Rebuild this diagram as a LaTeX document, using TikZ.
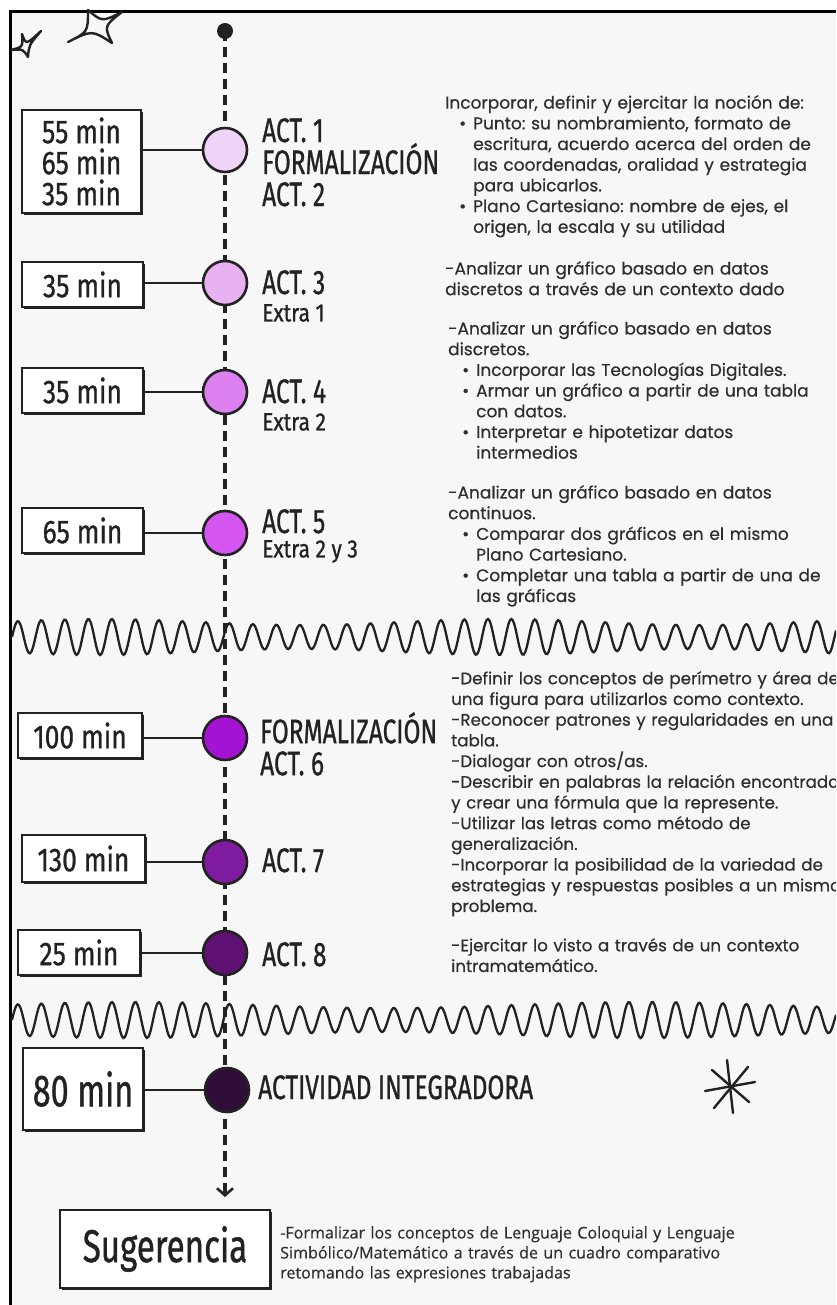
\documentclass[tikz,border=0pt]{standalone}
\usepackage{fontspec}
\usepackage{graphicx}
\setmainfont{Poppins}[FakeBold=0.5]
\newfontfamily\handfont{Fira Sans}[FakeBold=1]
\newfontfamily\sugfont{Open Sans}[FakeBold=0.4]
\usetikzlibrary{arrows.meta,shadows}

\definecolor{paper}{HTML}{F7F7F7}
\definecolor{ink}{HTML}{222222}
\definecolor{txt}{HTML}{2E2E2E}
\definecolor{p1}{HTML}{F0D4F7}
\definecolor{p2}{HTML}{E8B2F2}
\definecolor{p3}{HTML}{DC80F0}
\definecolor{p4}{HTML}{D455F2}
\definecolor{p5}{HTML}{A412D2}
\definecolor{p6}{HTML}{7E1B9E}
\definecolor{p7}{HTML}{5F1173}
\definecolor{p8}{HTML}{2E0D36}

\newcommand\hand[1]{\scalebox{0.72}[1]{\handfont #1}}
\newcommand\boxhand[1]{\scalebox{0.8}[1]{\handfont #1}}
\newcommand\exhand[1]{\scalebox{0.84}[1]{\handfont #1}}
\newcommand\itm[1]{\par{\leftskip=28pt\noindent\llap{\textbullet\hspace{7pt}}#1\par}}
\newcommand\descfont{\fontsize{17}{20.7}\selectfont\frenchspacing\parindent=0pt\relax}
\newcommand\narrowdesc{\fontsize{16.7}{20.7}\selectfont\frenchspacing\parindent=0pt\relax}
\newcommand\sugtext{\sugfont\fontsize{16.1}{20}\selectfont\frenchspacing\parindent=0pt\relax}

\begin{document}
\begin{tikzpicture}[
    x=1pt,y=-1pt,
    every node/.style={text=ink},
    dot/.style={circle, draw=ink, line width=2.6pt, minimum size=44pt, inner sep=0pt},
    tbox/.style={draw=ink, fill=white, line width=2pt, inner sep=0pt, align=center,
        font=\fontsize{33}{31}\selectfont,
        drop shadow={opacity=1, fill=ink, shadow xshift=2.4pt, shadow yshift=-2.4pt}},
    head/.style={anchor=north west, inner sep=0pt, align=left, font=\fontsize{34}{32}\selectfont},
    extra/.style={anchor=north west, inner sep=0pt, font=\fontsize{25}{25}\selectfont},
    desc/.style={anchor=north west, inner sep=0pt, text width=470pt, align=left, text=txt,
        font=\descfont},
    link/.style={draw=ink, line width=2.8pt},
    spine/.style={draw=ink, line width=3.2pt, dash pattern=on 10pt off 6pt},
    wave/.style={draw=ink, line width=2.3pt},
    sketch/.style={draw=ink, line width=2.4pt, line cap=round, line join=round}
]
    \useasboundingbox (0,0) rectangle (836,1305);
    \fill[white] (0,0) rectangle (836,1305);
    \fill[paper] (10,12) rectangle (836,1305);
    \clip (0,0) rectangle (836,1305);
    \draw[line width=3pt] (10,1305) -- (10,12) -- (836,12);

    % stars and asterisk
    \draw[sketch] (11,50) .. controls (23,47) .. (22,34) .. controls (26,45) .. (41,31)
        .. controls (29,45) .. (28,57) .. controls (23,49) .. cycle;
    \draw[sketch] (68,42) .. controls (88,32) .. (88,10) .. controls (102,22) .. (122,12)
        .. controls (104,26) .. (112,43) .. controls (92,30) .. cycle;
    \draw[sketch] (727,1060) -- (733,1113);
    \draw[sketch] (705,1091) -- (755,1082);
    \draw[sketch] (712,1070) -- (749,1102);
    \draw[sketch] (748,1067) -- (714,1108);

    % separators
    \draw[wave] plot[domain=12:836, samples=600, smooth] (\x,{637-(15+3*sin(\x*0.9))*sin(((\x-12)/23.5)*360)});
    \draw[wave] plot[domain=12:836, samples=600, smooth] (\x,{1020-(15+3*sin(\x*0.7))*sin(((\x-12)/23.5)*360)});

    % timeline
    \coordinate (start) at (225,31);
    \coordinate (tip) at (225,1197);
    \draw[spine, -{Straight Barb[length=7pt, width=16pt, line width=2.6pt]}] (start) -- (tip);
    \node[circle, fill=ink, minimum size=16pt, inner sep=0pt] (top) at (start) {};

    \node[dot, fill=p1] (a1) at (225,150) {};
    \node[dot, fill=p2] (a3) at (225,283) {};
    \node[dot, fill=p3] (a4) at (225,392) {};
    \node[dot, fill=p4] (a5) at (225,533) {};
    \node[dot, fill=p5] (a6) at (225,738) {};
    \node[dot, fill=p6] (a7) at (225,862) {};
    \node[dot, fill=p7] (a8) at (225,953) {};
    \node[dot, fill=p8] (ai) at (227,1090) {};

    % time boxes
    \node[tbox, minimum width=119pt, minimum height=103pt] (t1) at (81.5,161.5)
        {\boxhand{55 min}\\\boxhand{65 min}\\\boxhand{35 min}};
    \node[tbox, minimum width=121pt, minimum height=45pt] (t3) at (82.5,284.5) {\boxhand{35 min}};
    \node[tbox, minimum width=121pt, minimum height=45pt] (t4) at (82.5,390.5) {\boxhand{35 min}};
    \node[tbox, minimum width=121pt, minimum height=45pt] (t5) at (82.5,530.5) {\boxhand{65 min}};
    \node[tbox, minimum width=124pt, minimum height=45pt] (t6) at (80,735.5) {\boxhand{100 min}};
    \node[tbox, minimum width=123pt, minimum height=47pt] (t7) at (83.5,858.5) {\boxhand{130 min}};
    \node[tbox, minimum width=122pt, minimum height=45pt] (t8) at (79,952.5) {\boxhand{25 min}};
    \node[tbox, minimum width=120pt, minimum height=82pt, font=\fontsize{45}{45}\selectfont] (ti) at (83,1089) {\hand{80 min}};
    \node[tbox, minimum width=210pt, minimum height=78pt, font=\fontsize{46}{46}\selectfont] (sug) at (165,1249) {\hand{Sugerencia}};

    \draw[link] (t1.east |- a1) -- (a1.west);
    \draw[link] (t3.east |- a3) -- (a3.west);
    \draw[link] (t4.east |- a4) -- (a4.west);
    \draw[link] (t5.east |- a5) -- (a5.west);
    \draw[link] (t6.east |- a6) -- (a6.west);
    \draw[link] (t7.east |- a7) -- (a7.west);
    \draw[link] (t8.east |- a8) -- (a8.west);
    \draw[link] (ti.east |- ai) -- (ai.west);

    % activity names
    \node[head] (h1) at (262,118) {\hand{ACT. 1}\\\hand{FORMALIZACIÓN}\\\hand{ACT. 2}};
    \node[head] (h3) at (262,270) {\hand{ACT. 3}};
    \node[extra] (x3) at (262,304) {\exhand{Extra 1}};
    \node[head] (h4) at (262,379) {\hand{ACT. 4}};
    \node[extra] (x4) at (262,413) {\exhand{Extra 2}};
    \node[head] (h5) at (262,509) {\hand{ACT. 5}};
    \node[extra] (x5) at (262,540) {\exhand{Extra 2 y 3}};
    \node[head] (h6) at (260,712) {\hand{FORMALIZACIÓN}\\\hand{ACT. 6}};
    \node[head] (h7) at (262,848) {\hand{ACT. 7}};
    \node[head] (h8) at (262,942) {\hand{ACT. 8}};
    \node[head] (hi) at (258,1075) {\hand{ACTIVIDAD INTEGRADORA}};

    % descriptions
    \node[desc] (d1) at (445,95) {Incorporar, definir y ejercitar la noción de:
        \itm{Punto: su nombramiento, formato de\newline escritura, acuerdo acerca del orden de\newline las coordenadas, oralidad y estrategia\newline para ubicarlos.}
        \itm{Plano Cartesiano: nombre de ejes, el\newline origen, la escala y su utilidad}};
    \node[desc] (d3) at (445,261) {-Analizar un gráfico basado en datos\newline discretos a través de un contexto dado};
    \node[desc] (d4) at (448,321) {-Analizar un gráfico basado en datos\newline discretos.
        \itm{Incorporar las Tecnologías Digitales.}
        \itm{Armar un gráfico a partir de una tabla\newline con datos.}
        \itm{Interpretar e hipotetizar datos\newline intermedios}};
    \node[desc] (d5) at (448,485) {-Analizar un gráfico basado en datos\newline continuos.
        \itm{Comparar dos gráficos en el mismo\newline Plano Cartesiano.}
        \itm{Completar una tabla a partir de una de\newline las gráficas}};
    \node[desc, font=\narrowdesc] (d6) at (451,671) {-Definir los conceptos de perímetro y área de\newline una figura para utilizarlos como contexto.\newline -Reconocer patrones y regularidades en una\newline tabla.\newline -Dialogar con otros/as.\newline -Describir en palabras la relación encontrada\newline y crear una fórmula que la represente.\newline -Utilizar las letras como método de\newline generalización.\newline -Incorporar la posibilidad de la variedad de\newline estrategias y respuestas posibles a un mismo\newline problema.};
    \node[desc, font=\narrowdesc] (d8) at (451,938) {-Ejercitar lo visto a través de un contexto\newline intramatemático.};
    \node[desc, font=\sugtext] (ds) at (280,1226)
        {-Formalizar los conceptos de Lenguaje Coloquial y Lenguaje\newline Simbólico/Matemático a través de un cuadro comparativo\newline retomando las expresiones trabajadas};
\end{tikzpicture}
\end{document}
